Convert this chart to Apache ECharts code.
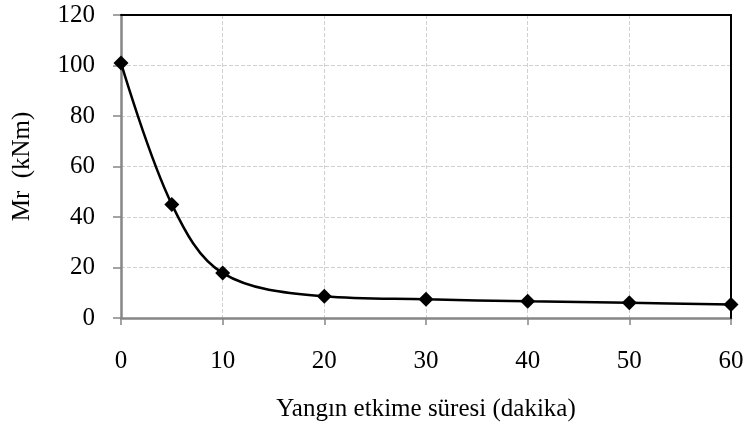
<!DOCTYPE html>
<html>
<head>
<meta charset="utf-8">
<script src="https://cdn.jsdelivr.net/npm/echarts@6/dist/echarts.min.js"></script>
<style>html,body{margin:0;padding:0;background:#fff;}#c{width:747px;height:429px;}</style>
</head>
<body>
<div id="c"></div>
<script>
const xValues = [0, 5, 10, 20, 30, 40, 50, 60];
const mrValues = [101, 45, 17.8, 8.6, 7.4, 6.6, 6.0, 5.3];
const xTitle = 'Yangın etkime süresi (dakika)';
const yTitle = 'Mr  (kNm)';

const chart = echarts.init(document.getElementById('c'), null, {renderer: 'canvas'});
const font = '"Liberation Serif", "Times New Roman", serif';
const gridLine = {show: true, lineStyle: {color: '#d0d0d0', type: 'dashed', width: 1}};
chart.setOption({
  animation: false,
  backgroundColor: '#fff',
  grid: {left: 121, right: 16, top: 15, bottom: 111},
  xAxis: [{
    type: 'value', min: 0, max: 60, interval: 10,
    name: xTitle, nameLocation: 'middle', nameGap: 79,
    nameTextStyle: {fontFamily: font, fontSize: 25, color: '#000'},
    axisLine: {onZero: false, lineStyle: {color: '#868686', width: 2.5}},
    axisTick: {show: true, inside: false, length: 7, lineStyle: {color: '#868686', width: 1.5}},
    axisLabel: {fontFamily: font, fontSize: 25, color: '#000', margin: 31},
    splitLine: gridLine
  }, {
    type: 'value', position: 'top', min: 0, max: 60, interval: 10, z: 6,
    axisLine: {show: true, onZero: false, lineStyle: {color: '#000', width: 2}},
    axisTick: {show: false}, axisLabel: {show: false}, splitLine: {show: false}
  }],
  yAxis: [{
    type: 'value', min: 0, max: 120, interval: 20,
    name: yTitle, nameLocation: 'middle', nameGap: 86, nameRotate: 90,
    nameTextStyle: {fontFamily: font, fontSize: 25, color: '#000'},
    axisLine: {show: true, onZero: false, lineStyle: {color: '#868686', width: 2.5}},
    axisTick: {show: true, inside: false, length: 8, lineStyle: {color: '#868686', width: 1.5}},
    axisLabel: {fontFamily: font, fontSize: 25, color: '#000', margin: 26},
    splitLine: gridLine
  }, {
    type: 'value', position: 'right', min: 0, max: 120, interval: 20, z: 6,
    axisLine: {show: true, onZero: false, lineStyle: {color: '#000', width: 2}},
    axisTick: {show: false}, axisLabel: {show: false}, splitLine: {show: false}
  }],
  series: [{
    type: 'line',
    data: xValues.map((x, i) => [x, mrValues[i]]),
    smooth: 0.35,
    symbol: 'diamond',
    symbolSize: 15,
    itemStyle: {color: '#000'},
    lineStyle: {color: '#000', width: 2.5},
    z: 8
  }]
});
</script>
</body>
</html>
